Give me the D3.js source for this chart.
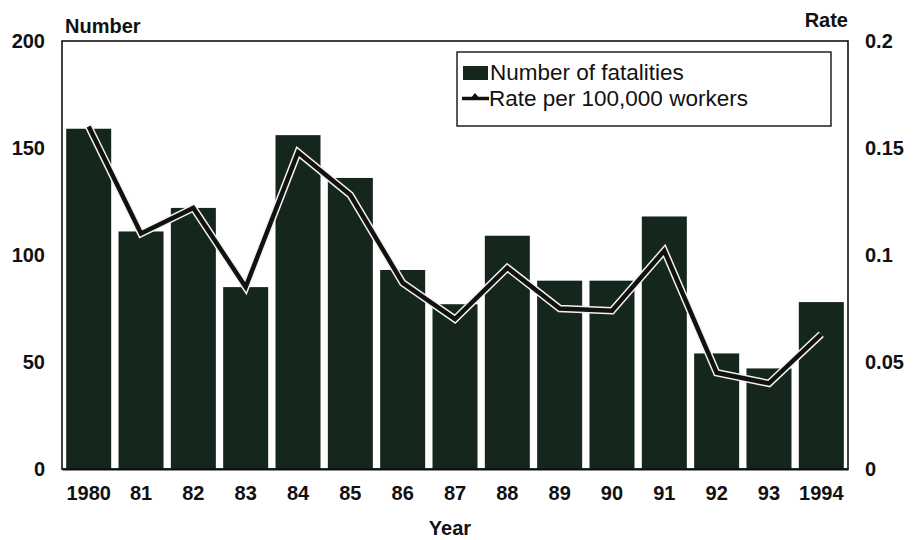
<!DOCTYPE html>
<html>
<head>
<meta charset="utf-8">
<script src="https://cdn.jsdelivr.net/npm/d3@7"></script>
<style>
  html, body { margin: 0; padding: 0; background: #fff; }
  svg { display: block; font-family: "Liberation Sans", Arial, sans-serif; }
</style>
</head>
<body>
<svg id="chart" width="921" height="540"></svg>
<script>
// Fatalities by year and rate per 100,000 workers, 1980–1994
const years = ["1980", "81", "82", "83", "84", "85", "86", "87", "88", "89", "90", "91", "92", "93", "1994"];
const fatalities = [159, 111, 122, 85, 156, 136, 93, 77, 109, 88, 88, 118, 54, 47, 78];
const rates = [0.160, 0.110, 0.122, 0.085, 0.148, 0.128, 0.087, 0.070, 0.094, 0.075, 0.074, 0.102, 0.045, 0.040, 0.063];
const leftTicks = [0, 50, 100, 150, 200];
const rightTicks = [0, 0.05, 0.1, 0.15, 0.2];

const svg = d3.select("#chart");
const m = { left: 62, right: 848, top: 41, bottom: 469 };

const x = d3.scaleBand().domain(years).range([m.left, m.right]).paddingInner(0.14).paddingOuter(0.08);
const yN = d3.scaleLinear().domain([0, 200]).range([m.bottom, m.top]);
const yR = d3.scaleLinear().domain([0, 0.2]).range([m.bottom, m.top]);

const barFill = "#15261c";
const ink = "#111";
const font = "Liberation Sans, Arial, sans-serif";

// Bars
svg.append("g").selectAll("rect").data(fatalities).join("rect")
  .attr("x", (d, i) => x(years[i]))
  .attr("y", d => yN(d))
  .attr("width", x.bandwidth())
  .attr("height", d => yN(0) - yN(d))
  .attr("fill", barFill);

// Plot frame
svg.append("rect")
  .attr("x", m.left).attr("y", m.top)
  .attr("width", m.right - m.left).attr("height", m.bottom - m.top)
  .attr("fill", "none").attr("stroke", ink).attr("stroke-width", 1.6);

// Rate line: thin white halo under a heavy black stroke
const line = d3.line()
  .x((d, i) => x(years[i]) + x.bandwidth() / 2)
  .y(d => yR(d));
svg.append("path").datum(rates).attr("d", line)
  .attr("fill", "none").attr("stroke", "#f2f2ee").attr("stroke-width", 7.5)
  .attr("stroke-linejoin", "miter");
svg.append("path").datum(rates).attr("d", line)
  .attr("fill", "none").attr("stroke", ink).attr("stroke-width", 4.5)
  .attr("stroke-linejoin", "miter");

// Left axis
const axL = svg.append("g").attr("transform", `translate(${m.left - 17},0)`)
  .call(d3.axisLeft(yN).tickValues(leftTicks).tickSize(0).tickPadding(0));
axL.select(".domain").remove();
axL.selectAll("text").attr("font-size", 20).attr("font-weight", "bold")
  .attr("fill", ink).attr("font-family", font);

// Right axis
const axR = svg.append("g").attr("transform", `translate(${m.right + 17},0)`)
  .call(d3.axisRight(yR).tickValues(rightTicks).tickSize(0).tickPadding(0)
    .tickFormat(d => d === 0 ? "0" : String(d)));
axR.select(".domain").remove();
axR.selectAll("text").attr("font-size", 20).attr("font-weight", "bold")
  .attr("fill", ink).attr("font-family", font);

// Bottom axis
const axB = svg.append("g").attr("transform", `translate(0,${m.bottom})`)
  .call(d3.axisBottom(x).tickSize(0).tickPadding(17));
axB.select(".domain").attr("stroke", ink).attr("stroke-width", 2);
axB.selectAll("text").attr("font-size", 20).attr("font-weight", "bold")
  .attr("fill", ink).attr("font-family", font);

// Axis titles
svg.append("text").attr("x", 65).attr("y", 33).text("Number")
  .attr("font-size", 20).attr("font-weight", "bold").attr("fill", ink);
svg.append("text").attr("x", 848).attr("y", 27).attr("text-anchor", "end").text("Rate")
  .attr("font-size", 20).attr("font-weight", "bold").attr("fill", ink);
svg.append("text").attr("x", 450).attr("y", 535).attr("text-anchor", "middle").text("Year")
  .attr("font-size", 20).attr("font-weight", "bold").attr("fill", ink);

// Legend
const lg = svg.append("g");
lg.append("rect").attr("x", 457).attr("y", 52).attr("width", 374).attr("height", 74)
  .attr("fill", "#fff").attr("stroke", ink).attr("stroke-width", 1.4);
lg.append("rect").attr("x", 463).attr("y", 66).attr("width", 25).attr("height", 14)
  .attr("fill", barFill);
lg.append("text").attr("x", 490).attr("y", 80).text("Number of fatalities")
  .attr("font-size", 22.5).attr("fill", ink);
lg.append("line").attr("x1", 462).attr("x2", 489).attr("y1", 98.5).attr("y2", 98.5)
  .attr("stroke", ink).attr("stroke-width", 3.5);
lg.append("path").attr("d", "M470,99 L475,93 L480,99 Z").attr("fill", ink);
lg.append("text").attr("x", 489).attr("y", 106).text("Rate per 100,000 workers")
  .attr("font-size", 22.5).attr("fill", ink);
</script>
</body>
</html>
